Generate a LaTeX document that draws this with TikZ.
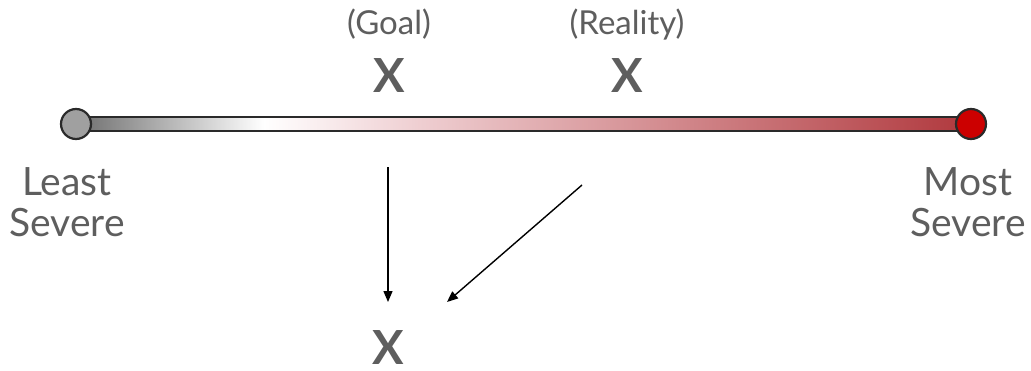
\documentclass[tikz,border=0pt]{standalone}
\usepackage{fontspec}
\setmainfont{Lato}
\usetikzlibrary{arrows.meta}
\definecolor{txt}{HTML}{5E5E5E}
\definecolor{barL}{HTML}{6E6E6E}
\definecolor{barR}{HTML}{B0383D}
\definecolor{barM}{HTML}{EFCFD2}
\definecolor{edge}{HTML}{2A2A2A}
\definecolor{dotL}{HTML}{A0A0A0}
\definecolor{dotR}{HTML}{CC0000}
\pgfdeclarehorizontalshading{sev}{100bp}{color(0bp)=(barL); color(25bp)=(barL); color(35.5bp)=(white); color(44bp)=(barM); color(75bp)=(barR); color(100bp)=(barR)}
\tikzset{
  lbl/.style={text=txt, font=\fontsize{39}{41}\selectfont, align=center, inner sep=0pt},
  small/.style={text=txt, font=\fontsize{33}{36}\selectfont, inner sep=0pt},
  xmark/.style={text=txt, font=\fontsize{47}{50}\selectfont\bfseries, inner sep=0pt},
  dot/.style={circle, draw=edge, line width=2.2pt, minimum size=30pt, inner sep=0pt},
  arr/.style={-{Triangle[length=11pt,width=9pt]}, line width=1.4pt, black},
}
\begin{document}
\begin{tikzpicture}[x=1pt,y=-1pt]
\useasboundingbox (0,0) rectangle (1031,370);
\draw[shading=sev, draw=edge, line width=2pt] (76,117) rectangle (971,131);
\node[dot, fill=dotL] (least) at (76,124) {};
\node[dot, fill=dotR] (most) at (971,124) {};
\node[small, anchor=base] (goal) at (389,34) {(Goal)};
\node[small, anchor=base] (real) at (627,34) {(Reality)};
\node[xmark, anchor=base] (xg) at (389,92) {X};
\node[xmark, anchor=base] (xr) at (627,92) {X};
\node[xmark, anchor=base] (xb) at (388,364) {X};
\node[lbl, anchor=base] (lt) at (67,236) {Least\\Severe};
\node[lbl, anchor=base] (mt) at (968,236) {Most\\Severe};
\coordinate (s1) at (388,167);
\coordinate (e1) at (388,302);
\coordinate (s2) at (582,185);
\coordinate (e2) at (447,302);
\draw[arr] (s1) -- (e1);
\draw[arr] (s2) -- (e2);
\end{tikzpicture}
\end{document}
